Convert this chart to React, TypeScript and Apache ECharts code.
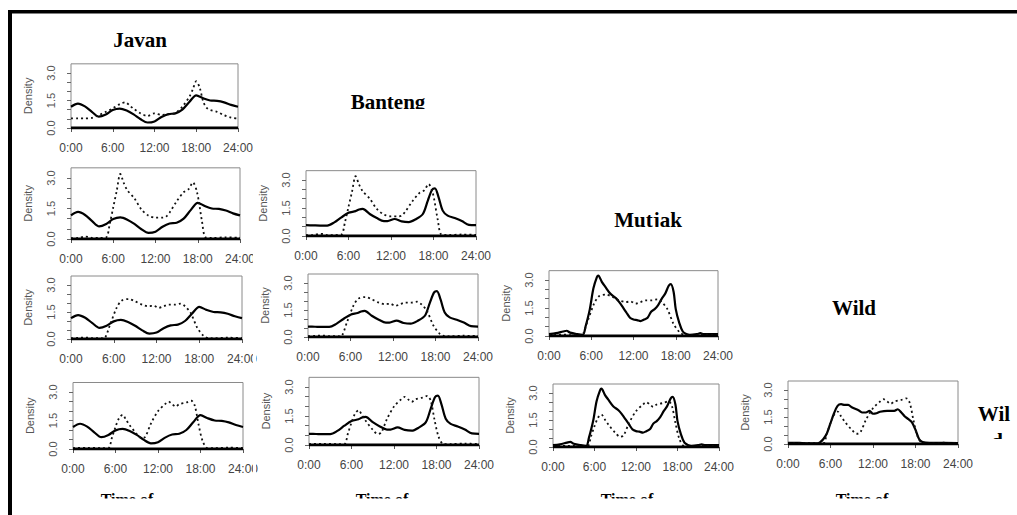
import { useEffect, useRef } from "react";
import * as echarts from "echarts";

// ---- axis ticks / labels ----
const hourTicks = [0, 6, 12, 18, 24];
const densityTicks = [0, 0.5, 1, 1.5, 2, 2.5, 3];
const densityLabelTicks = [0, 1.5, 3];
const yAxisTitle = "Density";
const xAxisTitle = "Time of";
const speciesTitles = ["Javan", "Banteng", "Mutjak", "Wild"];
const lastTitleLines = ["Wil", "d"];
const rugSpan = [0, 24];

// ---- solid curves (column species) ----
const javanHours = [0, 1, 2, 3, 4, 5, 6, 7, 8, 9, 10, 11, 12, 13, 14, 15, 16, 17, 18, 19, 20, 21, 22, 23, 24];
const javanDensity = [1.16, 1.33, 1.18, 0.88, 0.62, 0.74, 0.98, 1.06, 0.95, 0.74, 0.48, 0.3, 0.36, 0.6, 0.76, 0.8, 1.0, 1.42, 1.78, 1.62, 1.5, 1.48, 1.4, 1.26, 1.16];

const bantengHours = [0, 1, 2, 3, 4, 5, 6, 7, 7.5, 8, 9, 10, 11, 11.5, 12.5, 13.5, 14.5, 15.5, 16.5, 17.2, 17.8, 18.2, 18.7, 19.3, 20, 21, 22, 23, 24];
const bantengDensity = [0.58, 0.57, 0.56, 0.56, 0.73, 1.0, 1.24, 1.33, 1.42, 1.45, 1.18, 0.96, 0.8, 0.8, 0.91, 0.78, 0.74, 0.9, 1.18, 1.9, 2.48, 2.55, 2.1, 1.36, 1.09, 0.96, 0.8, 0.6, 0.58];

const mutjakHours = [0, 1, 2, 2.5, 3, 4, 4.8, 5.2, 5.8, 6.3, 6.8, 7, 7.5, 8, 8.7, 9.5, 10, 10.5, 11, 11.5, 12, 12.5, 13, 13.5, 14, 14.5, 15, 15.5, 16, 16.5, 17, 17.3, 17.7, 18, 18.5, 19, 19.5, 20, 21, 21.5, 22, 24];
const mutjakDensity = [0.1, 0.15, 0.24, 0.28, 0.18, 0.1, 0.06, 0.52, 1.44, 2.54, 3.15, 3.24, 2.9, 2.63, 2.27, 2.03, 1.8, 1.53, 1.25, 0.98, 0.88, 0.85, 0.8, 0.88, 0.98, 1.3, 1.44, 1.66, 1.99, 2.27, 2.69, 2.78, 2.36, 1.44, 0.7, 0.24, 0.11, 0.06, 0.1, 0.15, 0.1, 0.1];

const wildHours = [0, 1, 2, 3, 4, 4.5, 5, 5.5, 6, 6.5, 7, 7.5, 8, 8.5, 9, 10, 10.5, 11, 11.5, 12, 12.5, 13, 14, 15, 15.5, 16, 16.5, 17, 17.5, 18, 18.5, 19, 20, 22, 24];
const wildDensity = [0.06, 0.07, 0.05, 0.04, 0.03, 0.09, 0.28, 0.6, 1.16, 1.71, 2.12, 2.21, 2.17, 2.17, 2.04, 1.86, 1.75, 1.75, 1.84, 1.68, 1.71, 1.79, 1.84, 1.84, 1.93, 1.75, 1.53, 1.38, 1.2, 0.79, 0.28, 0.11, 0.06, 0.06, 0.05];

// ---- dotted curves (row species) ----
const row1Hours = [0, 1, 2, 3, 4, 5, 6, 7, 7.8, 8.5, 9, 10, 11, 12, 13, 14, 15, 16, 17, 17.5, 18, 18.5, 19, 19.5, 20, 21, 22, 23, 24];
const row1Density = [0.52, 0.52, 0.52, 0.55, 0.7, 0.88, 1.07, 1.3, 1.4, 1.2, 1.05, 0.8, 0.66, 0.8, 0.72, 0.75, 0.82, 1.16, 1.7, 2.1, 2.55, 2.2, 1.44, 1.1, 0.98, 0.88, 0.7, 0.57, 0.52];

const row2Hours = [0, 1, 2, 2.5, 3, 4, 5, 5.5, 6, 6.5, 7, 7.5, 8, 9, 10, 11, 12, 13, 13.5, 14, 15, 16, 16.7, 17.3, 17.9, 18.6, 19.1, 20, 22, 24];
const row2Density = [0.04, 0.05, 0.12, 0.1, 0.05, 0.05, 0.08, 0.74, 1.56, 2.38, 3.2, 2.75, 2.4, 2.0, 1.45, 1.15, 1.05, 1.05, 1.1, 1.3, 1.85, 2.3, 2.45, 2.78, 2.3, 0.87, 0.08, 0.05, 0.08, 0.06];

const row3Hours = [0, 1, 2, 3, 4, 4.6, 5.5, 6.4, 7.1, 8.1, 9, 10, 10.9, 11.6, 12.3, 13, 13.7, 14.6, 15.4, 16, 16.8, 17.7, 18.6, 19.3, 20, 22, 24];
const row3Density = [0.05, 0.06, 0.08, 0.05, 0.05, 0.03, 0.82, 1.73, 2.13, 2.22, 2.09, 1.91, 1.82, 1.85, 1.73, 1.82, 1.91, 1.91, 1.96, 1.82, 1.45, 0.64, 0.18, 0.05, 0.04, 0.07, 0.05];

const row4Hours = [0, 2, 4, 5, 5.5, 6, 6.5, 7, 7.5, 8, 9, 9.7, 10.2, 11, 12, 13, 13.5, 14, 14.5, 15, 16, 16.7, 17.2, 17.7, 18.3, 19, 20, 22, 24];
const row4Density = [0.05, 0.06, 0.05, 0.05, 0.6, 1.16, 1.62, 1.8, 1.53, 1.25, 0.79, 0.57, 0.64, 1.34, 1.99, 2.36, 2.49, 2.36, 2.23, 2.36, 2.45, 2.54, 2.27, 1.34, 0.42, 0.05, 0.05, 0.07, 0.05];

const pairs = (h: number[], v: number[]) => h.map((x, i) => [x, v[i]]);

const solidCurves = [
  pairs(javanHours, javanDensity),
  pairs(bantengHours, bantengDensity),
  pairs(mutjakHours, mutjakDensity),
  pairs(wildHours, wildDensity),
];
const dottedCurves = [
  pairs(row1Hours, row1Density),
  pairs(row2Hours, row2Density),
  pairs(row3Hours, row3Density),
  pairs(row4Hours, row4Density),
];

// ---- layout (pixel positions of each panel: x of 0:00 / 24:00, y of 3.0 / 0.0) ----
const panels = [
  { row: 0, col: 0, xL: 71, xR: 238, y3: 73, y0: 128 },
  { row: 1, col: 0, xL: 71, xR: 240, y3: 178, y0: 239 },
  { row: 1, col: 1, xL: 306, xR: 476, y3: 180, y0: 236 },
  { row: 2, col: 0, xL: 71, xR: 242, y3: 285, y0: 339 },
  { row: 2, col: 1, xL: 308, xR: 478, y3: 283, y0: 337 },
  { row: 2, col: 2, xL: 549, xR: 718, y3: 280, y0: 336 },
  { row: 3, col: 0, xL: 73, xR: 243, y3: 392, y0: 449 },
  { row: 3, col: 1, xL: 309, xR: 479, y3: 387, y0: 445 },
  { row: 3, col: 2, xL: 553, xR: 719, y3: 393, y0: 447 },
  { row: 3, col: 3, xL: 788, xR: 958, y3: 390, y0: 444 },
];

const SANS = "'Liberation Sans', Arial, sans-serif";
const SERIF = "'Liberation Serif', 'Times New Roman', serif";
const Y_MAX = 3.5;

function buildOption() {
  const grid: any[] = [];
  const xAxis: any[] = [];
  const yAxis: any[] = [];
  const series: any[] = [];

  panels.forEach((p, i) => {
    const unit = (p.y0 - p.y3) / 3;
    grid.push({
      left: p.xL,
      width: p.xR - p.xL,
      top: p.y0 - Y_MAX * unit,
      height: Y_MAX * unit,
      show: true,
      borderColor: "#8a8a8a",
      borderWidth: 1,
      backgroundColor: "transparent",
    });
    xAxis.push({
      gridIndex: i,
      type: "value",
      min: 0,
      max: 24,
      interval: 6,
      axisLine: { show: true, onZero: false, lineStyle: { color: "#777", width: 1 } },
      axisTick: { show: true, length: 4, lineStyle: { color: "#555" } },
      splitLine: { show: false },
      axisLabel: {
        show: true,
        margin: 14,
        fontSize: 12,
        fontFamily: SANS,
        color: "#444",
        formatter: (v: number) => (hourTicks.includes(v) ? `${v}:00` : ""),
      },
    });
    yAxis.push({
      gridIndex: i,
      type: "value",
      min: 0,
      max: Y_MAX,
      axisLine: { show: false },
      axisTick: { show: true, length: 4, customValues: densityTicks, lineStyle: { color: "#666" } },
      splitLine: { show: false },
      axisLabel: {
        show: true,
        customValues: densityLabelTicks,
        rotate: 90,
        margin: 15,
        fontSize: 11,
        fontFamily: SANS,
        color: "#555",
        formatter: (v: number) => v.toFixed(1),
      },
      name: yAxisTitle,
      nameLocation: "middle",
      nameGap: 38,
      nameTextStyle: { fontSize: 11, fontFamily: SANS, color: "#555" },
    });
    const base = { type: "line", xAxisIndex: i, yAxisIndex: i, symbol: "none", silent: true, smooth: 0.3 };
    series.push({
      ...base,
      data: solidCurves[p.col],
      lineStyle: { color: "#000", width: 2.2 },
      z: 3,
    });
    series.push({
      ...base,
      data: dottedCurves[p.row],
      lineStyle: { color: "#111", width: 1.8, type: [2, 3] },
      z: 4,
    });
    series.push({
      ...base,
      smooth: false,
      data: rugSpan.map((h) => [h, 0]),
      lineStyle: { color: "#000", width: 3 },
      z: 5,
    });
  });

  const title = (text: string, x: number, y: number, size: number) => ({
    type: "text",
    z: 100,
    style: {
      text,
      x,
      y,
      font: `bold ${size}px ${SERIF}`,
      fill: "#000",
      align: "center",
      verticalAlign: "middle",
      textAlign: "center",
      textVerticalAlign: "middle",
    },
  });
  const cover = (x: number, y: number, w: number, h: number) => ({
    type: "rect",
    z: 101,
    shape: { x, y, width: w, height: h },
    style: { fill: "#fff" },
  });

  const timeCenters = [127, 382, 627, 862];

  const graphic: any[] = [
    // figure frame
    { type: "rect", z: 110, shape: { x: 8, y: 10, width: 1009, height: 3.5 }, style: { fill: "#000" } },
    { type: "rect", z: 110, shape: { x: 8, y: 10, width: 4, height: 505 }, style: { fill: "#000" } },
    title(speciesTitles[0], 140, 40, 21),
    title(speciesTitles[1], 388, 102, 21),
    cover(330, 109, 120, 12),
    title(speciesTitles[2], 648, 220, 21),
    cover(590, 227, 120, 12),
    title(speciesTitles[3], 854, 308, 21),
    title(lastTitleLines[0], 994, 414, 21),
    title(lastTitleLines[1], 997, 441, 21),
    cover(970, 439, 47, 20),
    // clipped "24:00" labels of the first column
    cover(253, 250, 3, 14),
    cover(253, 351, 3, 14),
    cover(253, 462, 3, 14),
  ];
  timeCenters.forEach((c) => {
    graphic.push(title(xAxisTitle, c, 499, 16));
    graphic.push(cover(c - 45, 498.5, 90, 17));
  });

  return {
    animation: false,
    backgroundColor: "#fff",
    grid,
    xAxis,
    yAxis,
    series,
    graphic,
  };
}

export default function App() {
  const ref = useRef<HTMLDivElement>(null);
  useEffect(() => {
    if (!ref.current) return;
    const chart = echarts.init(ref.current, undefined, { renderer: "svg" });
    chart.setOption(buildOption() as any);
    return () => chart.dispose();
  }, []);
  return (
    <div
      ref={ref}
      style={{ position: "fixed", left: 0, top: 0, width: 1017, height: 515, background: "#fff" }}
    />
  );
}
